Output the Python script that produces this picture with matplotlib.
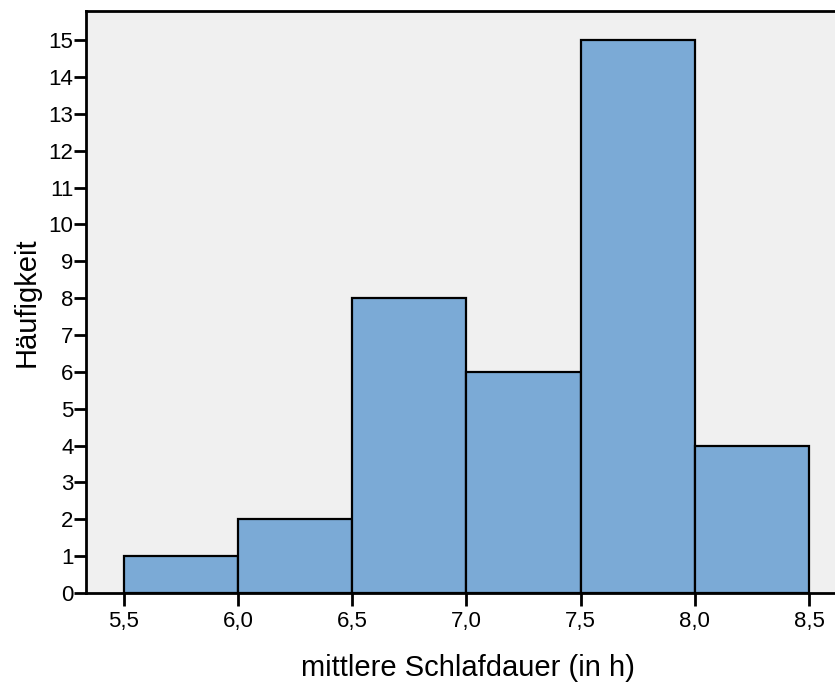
import matplotlib
matplotlib.use("Agg")
import matplotlib.pyplot as plt
import numpy as np

# Histogram of average sleep duration
bin_edges = [5.5, 6.0, 6.5, 7.0, 7.5, 8.0, 8.5]
counts = [1, 2, 8, 6, 15, 4]
x_ticks = [5.5, 6.0, 6.5, 7.0, 7.5, 8.0, 8.5]
x_tick_labels = ["5,5", "6,0", "6,5", "7,0", "7,5", "8,0", "8,5"]
y_ticks = list(range(0, 16))

plt.rcParams['font.family'] = ['Liberation Sans', 'DejaVu Sans']

W, H = 835, 683
fig = plt.figure(figsize=(W / 100, H / 100), dpi=100)
ax = fig.add_axes([86 / W, 1 - 593 / H, (W - 86) / W, (593 - 11) / H])
ax.set_facecolor("#F0F0F0")

lefts = np.array(bin_edges[:-1])
widths = np.diff(bin_edges)
ax.bar(lefts, counts, width=widths, align="edge", color="#7BAAD6",
       edgecolor="black", linewidth=1.6, zorder=2)

ax.set_xlim(5.334, 8.614)
ax.set_ylim(0, 15.79)
ax.set_xticks(x_ticks)
ax.set_xticklabels(x_tick_labels)
ax.set_yticks(y_ticks)
ax.set_yticklabels([str(v) for v in y_ticks])

for side in ["left", "bottom", "top"]:
    ax.spines[side].set_linewidth(2)
    ax.spines[side].set_color("black")
ax.spines["right"].set_visible(False)

ax.tick_params(axis="both", direction="out", length=9, width=2, colors="black",
               labelsize=16)
ax.tick_params(axis="x", pad=4)
ax.tick_params(axis="y", pad=0)

fig.text(467.5 / W, (H - 676) / H, "mittlere Schlafdauer (in h)", fontsize=21,
         ha="center", va="baseline")
ax.set_ylabel("Häufigkeit", fontsize=21, labelpad=6)

fig.savefig("out.png", dpi=100)
